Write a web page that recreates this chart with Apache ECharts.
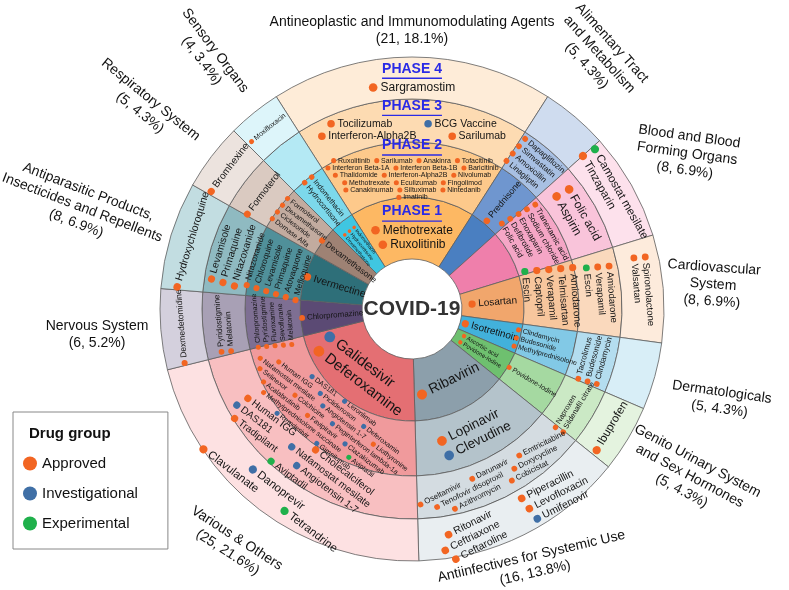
<!DOCTYPE html>
<html lang="en">
<head>
<meta charset="UTF-8">
<title>COVID-19 drug repurposing</title>
<script src="https://cdn.jsdelivr.net/npm/echarts@6/dist/echarts.min.js"></script>
<style>
  html, body { margin: 0; padding: 0; background: #fff; }
  #chart { width: 789px; height: 590px; }
</style>
</head>
<body>
<div id="chart"></div>
<script>
// ATC groups, clockwise from the top
var groupNames = ['Antineoplastic and Immunomodulating Agents', 'Alimentary Tract\nand Metabolism', 'Blood and Blood\nForming Organs',
  'Cardiovascular\nSystem', 'Dermatologicals', 'Genito Urinary System\nand Sex Hormones', 'Antiinfectives for Systemic Use',
  'Various & Others', 'Nervous System', 'Antiparasitic Products,\nInsecticides and Repellents', 'Respiratory System', 'Sensory Organs'];
var groupCounts = [21, 5, 8, 8, 5, 5, 16, 25, 6, 8, 5, 4];
var groupShares = ['18.1%', '4.3%', '6.9%', '6.9%', '4.3%', '4.3%', '13.8%', '21.6%', '5.2%', '6.9%', '4.3%', '3.4%'];
var phaseTitles = ['PHASE 1', 'PHASE 2', 'PHASE 3', 'PHASE 4'];
var legendGroups = ['Approved', 'Investigational', 'Experimental'];

// one entry per group, each a list of rows; "Name/g" where g = a approved, i investigational, e experimental
var phase1 = [
  ['Methotrexate/a', 'Ruxolitinib/a'],
  [],
  [],
  ['Losartan/a'],
  ['Isotretinoin/a'],
  ['Ascorbic acid/a', 'Povidone-Iodine/a'],
  ['Ribavirin/a'],
  ['Galidesivir/i', 'Deferoxamine/a'],
  ['Chlorpromazine/a'],
  ['Ivermectine/a'],
  ['Dexamethasone/a'],
  ['Indomethacin/a', 'Hydrocortisone/a', 'Dexamethasone/a']
];
var phase2 = [
  ['Ruxolitinib/a, Sarilumab/a, Anakinra/a, Tofacitinib/a', 'Interferon Beta-1A/a, Interferon Beta-1B/a, Baricitinib/a',
   'Thalidomide/a, Interferon-Alpha2B/a, Nivolumab/a', 'Methotrexate/a, Eculizumab/a, Fingolimod/a',
   'Canakinumab/a, Siltuximab/a, Nintedanib/a', 'Imatinib/a'],
  ['Prednisone/a'],
  ['Tranexamic acid/a', 'Sodium chloride/a', 'Enoxaparin/a', 'Defibrotide/a', 'Folic acid/a'],
  ['Amiodarone/a', 'Telmisartan/a', 'Verapamil/a', 'Captopril/a', 'Escin/e'],
  ['Clindamycin/a', 'Budesonide/a', 'Methylprednisolone/a'],
  ['Povidone-Iodine/a'],
  ['Lopinavir/a', 'Clevudine/i'],
  ['DAS181/i, Leronlimab/i', 'Human IGG/a, Piclidenoson/i, Deferoxamin/i', 'Nafamostat mesilate/a, Angiotensin 1-7/i, Liothyronine/a',
   'Selinexor/a, Colchicine/a, Peginterferon lambda-1a/i', 'Acalabrutinib/a, Favipiravir/a, Clazakizumab/i',
   'Methylprednisolone succinate/a, Aviptadil/e', 'Remdesivir/i, Gimsilumab/i'],
  ['Chlorpromazine/a', 'Pyridostigmine/a', 'Fluvoxamine/a', 'Sevoflurane/a', 'Melatonin/a'],
  ['Nitazoxanide/a', 'Chloroquine/a', 'Levamisole/a', 'Primaquine/a', 'Atovaquone/a', 'Mefloquine/a'],
  ['Formoterol/a', 'Dexamethasone/a', 'Ciclesonide/a', 'Dornase Alfa/a'],
  ['Indomethacin/a', 'Hydrocortisone/a']
];
var phase3 = [
  ['Tocilizumab/a, BCG Vaccine/i', 'Interferon-Alpha2B/a, Sarilumab/a'],
  ['Dapagliflozin/a', 'Simvastatin/a', 'Amoxicillin/a', 'Linagliptin/a'],
  ['Folic acid/a', 'Aspirin/a'],
  ['Amiodarone/a', 'Verapamil/a', 'Escin/e'],
  ['Tacrolimus/a', 'Budesonide/a', 'Clindamycin/a'],
  ['Naproxen/a', 'Sildenafil citrate/a'],
  ['Oseltamivir/a, Darunavir/a, Emtricitabine/a', 'Tenofovir disoproxil/a, Doxycycline/a', 'Azithromycin/a, Cobicistat/a'],
  ['Human IGG/a, Cholecalciferol/a', 'DAS181/i, Nafamostat mesilate/i', 'Tradipilant/a, Angiotensin 1-7/i', 'Aviptadil/e'],
  ['Pyridostigmine/a', 'Melatonin/a'],
  ['Levamisole/a', 'Primaquine/a', 'Nitazoxanide/a'],
  ['Formoterol/a'],
  []
];
var phase4 = [
  ['Sargramostim/a'],
  [],
  ['Camostat mesilate/e', 'Tinzaparin/a'],
  ['Spironolactone/a', 'Valsartan/a'],
  [],
  ['Ibuprofen/a'],
  ['Ritonavir/a, Piperacillin/a', 'Ceftriaxone/a, Levofloxacin/a', 'Ceftaroline/a, Umifenovir/i'],
  ['Danoprevir/i', 'Clavulanate/a, Tetrandrine/e'],
  ['Dexmedetomidine/a'],
  ['Hydroxychloroquine/a'],
  ['Bromhexine/a'],
  ['Moxifloxacin/a']
];

// ---- styling ----
var CX = 412, CY = 309;
var FONT = '"Liberation Sans", Arial, sans-serif';
var dotColor = { a: '#f26522', i: '#3f6fa6', e: '#1fb04b' };
var ringColors = [
  ['#fdb863', '#fdc98b', '#fddbb2', '#feecd8'],
  ['#4a7fc1', '#6f96cf', '#a8c0e3', '#cfdcef'],
  ['#ef7fab', '#f5a6c6', '#f9c4da', '#fde1ec'],
  ['#f1a66c', '#f7c69d', '#fad9bd', '#fdebdc'],
  ['#42b1db', '#82c9e6', '#b4ddef', '#d8eef7'],
  ['#6ec06f', '#a5d9a1', '#cbe9c5', '#e4f3df'],
  ['#8c9fab', '#b4c3cb', '#d4dce1', '#e9eef1'],
  ['#e46f73', '#f09a9c', '#f8bfc1', '#fde1e2'],
  ['#5b4a74', '#7e6f93', '#a8a0b5', '#d4d0dd'],
  ['#2e6f79', '#50909a', '#8fbac1', '#c2dde1'],
  ['#9e8274', '#c2ab9f', '#dacac1', '#ece3de'],
  ['#3fc6e1', '#7cd8eb', '#b4e9f4', '#ddf5fa']
];
// [rotation, font size, gap between drugs on one row, line height factor]
// rotation: r radial, t tangential, u tangential reading upwards
var cellFmt = [
  [['0', 12, 0], ['0', 7, 4, 1.05], ['0', 10.5, 32], ['0', 12, 0]],
  [['r', 9, 0], ['r', 9, 0], ['t', 8, 0], ['t', 8, 0]],
  [['t', 8, 0], ['t', 8, 0], ['t', 12, 0], ['t', 11.5, 0]],
  [['r', 10, 0], ['t', 10, 0], ['t', 9.5, 0], ['t', 9.5, 0]],
  [['r', 10, 0], ['r', 7, 0], ['t', 8, 0], ['t', 8, 0]],
  [['r', 6, 0], ['r', 7, 0], ['t', 7.5, 0], ['t', 11.5, 0]],
  [['t', 14, 0], ['t', 13.5, 0], ['t', 8, 10], ['t', 10.5, 30]],
  [['t', 15, 0], ['t', 7, 8], ['t', 10, 22], ['t', 11.5, 30]],
  [['r', 8, 0], ['u', 7, 0], ['u', 8, 0], ['u', 8.5, 0]],
  [['r', 10.5, 0], ['u', 8.5, 0], ['u', 10, 0], ['u', 10.5, 0]],
  [['r', 8.5, 0], ['r', 7, 0], ['u', 9.5, 0], ['u', 10, 0]],
  [['r', 5, 0], ['r', 7.5, 0], ['u', 7, 0], ['u', 7, 0]]
];
var outerR = [278, 316, 316, 302, 322, 324, 283, 297, 316, 345, 335, 325];
var outerShift = [0, 4, 0, 0, -1, 0, -1, 0, 0, 0, 0, 0];
var outerRot = [0, -48, -8, -4, -8, -28, 13, -33, 0, -21, -39, -53];

var measure = document.createElement('canvas').getContext('2d');

function cellLabel(rows, fmt, header, mid) {
  var size = fmt[1], gap = fmt[2];
  var multi = !!header || rows.some(function (r) { return r.indexOf(', ') >= 0; });
  var al = multi ? undefined : 'left';
  var d = size * 0.72;
  var lh = size * (fmt[3] || 1.2);
  var rich = {
    tx: { fontSize: size, lineHeight: lh, fontFamily: FONT, color: '#141414', padding: [0, 0, 0, size * 0.25], align: al },
    gp: { width: gap, height: 1, lineHeight: lh }
  };
  ['a', 'i', 'e'].forEach(function (k) {
    rich['d' + k] = { width: d, height: d, borderRadius: d / 2, backgroundColor: dotColor[k], lineHeight: lh, align: al };
  });
  var lines = rows.map(function (row) {
    return row.split(', ').map(function (item) {
      var p = item.split('/');
      return '{d' + p[1] + '|}{tx|' + p[0] + '}';
    }).join('{gp|}');
  });
  if (header) {
    measure.font = 'bold 14px ' + FONT;
    rich.hd = { fontSize: 14, fontWeight: 'bold', color: '#2a2ae6', fontFamily: FONT, lineHeight: 15 };
    rich.ul = { width: measure.measureText(header).width, height: 1.4, backgroundColor: '#2a2ae6', lineHeight: 4 };
    lines.unshift('{hd|' + header + '}', '{ul|}');
  }
  var rot = fmt[0];
  var rotate = rot === 'r' ? 'radial' : rot === 't' ? 'tangential' :
    rot === 'u' ? ((mid % 360) + 360) % 360 - 90 : 0;
  return { show: lines.length > 0, formatter: lines.join('\n'), rich: rich, rotate: rotate };
}

var phases = [phase1, phase2, phase3, phase4];
var total = groupCounts.reduce(function (s, v) { return s + v; }, 0);
var startAngle = 90 + groupCounts[0] / total * 180;
var mids = [];
var cum = 0;
var groupTree = groupCounts.map(function (cnt, g) {
  var mid = startAngle - (cum + cnt / 2) / total * 360;
  cum += cnt;
  mids.push(mid);
  var node = null;
  for (var p = 3; p >= 0; p--) {
    var n = {
      name: groupNames[g] + ' ' + phaseTitles[p],
      value: cnt,
      itemStyle: { color: ringColors[g][p] },
      label: cellLabel(phases[p][g], cellFmt[g][p], g === 0 ? phaseTitles[p] : null, mid)
    };
    if (node) n.children = [node];
    node = n;
  }
  return node;
});

var myChart = echarts.init(document.getElementById('chart'));

var option = {
  backgroundColor: '#fff',
  animation: false,
  title: {
    text: 'Drug group', left: 24, top: 421,
    textStyle: { fontSize: 15, fontWeight: 'bold', color: '#111', fontFamily: FONT }
  },
  legend: {
    data: legendGroups, orient: 'vertical', left: 13, top: 412,
    icon: 'circle', itemWidth: 14, itemHeight: 14, itemGap: 15,
    padding: [44, 30, 18, 10],
    borderColor: '#888', borderWidth: 1,
    selectedMode: false,
    textStyle: { fontSize: 15, color: '#111', fontFamily: FONT }
  },
  series: [
    {
      type: 'sunburst',
      center: [CX, CY],
      radius: [0, 252],
      startAngle: startAngle,
      sort: null,
      nodeClick: false,
      emphasis: { focus: 'none' },
      itemStyle: { borderColor: '#5e5e5e', borderWidth: 0.8 },
      label: { color: '#141414', fontFamily: FONT },
      levels: [
        {},
        { r0: 0, r: 50 },
        { r0: 50, r: 112 },
        { r0: 112, r: 167 },
        { r0: 167, r: 210 },
        { r0: 210, r: 252 }
      ],
      data: [{
        name: 'COVID-19',
        itemStyle: { color: '#fff', borderWidth: 0 },
        label: { rotate: 0, fontSize: 21, fontWeight: 'bold', color: '#333', fontFamily: FONT, formatter: '{b}' },
        children: groupTree
      }]
    },
    {
      // group names round the outside
      type: 'pie',
      center: [CX, CY],
      radius: [252, 253],
      startAngle: startAngle,
      clockwise: true,
      silent: true,
      avoidLabelOverlap: false,
      itemStyle: { color: 'rgba(0,0,0,0)', borderWidth: 0 },
      label: {
        show: true, position: 'inside',
        fontSize: 14, lineHeight: 17, color: '#111', fontFamily: FONT,
        formatter: function (p) {
          return groupNames[p.dataIndex] + '\n(' + groupCounts[p.dataIndex] + ', ' + groupShares[p.dataIndex] + ')';
        }
      },
      labelLine: { show: false },
      labelLayout: function (p) {
        var i = p.dataIndex;
        var a = (mids[i] + outerShift[i]) * Math.PI / 180;
        return {
          x: CX + outerR[i] * Math.cos(a),
          y: CY - outerR[i] * Math.sin(a),
          align: 'center', verticalAlign: 'middle', rotate: outerRot[i]
        };
      },
      data: groupCounts.map(function (v, i) { return { name: groupNames[i], value: v }; })
    },
    {
      // only feeds the legend
      type: 'pie',
      center: [-100, -100],
      radius: [0, 1],
      silent: true,
      label: { show: false },
      labelLine: { show: false },
      data: legendGroups.map(function (n) {
        return { name: n, value: 1, itemStyle: { color: dotColor[n.charAt(0).toLowerCase()] } };
      })
    }
  ]
};

myChart.setOption(option);
</script>
</body>
</html>
